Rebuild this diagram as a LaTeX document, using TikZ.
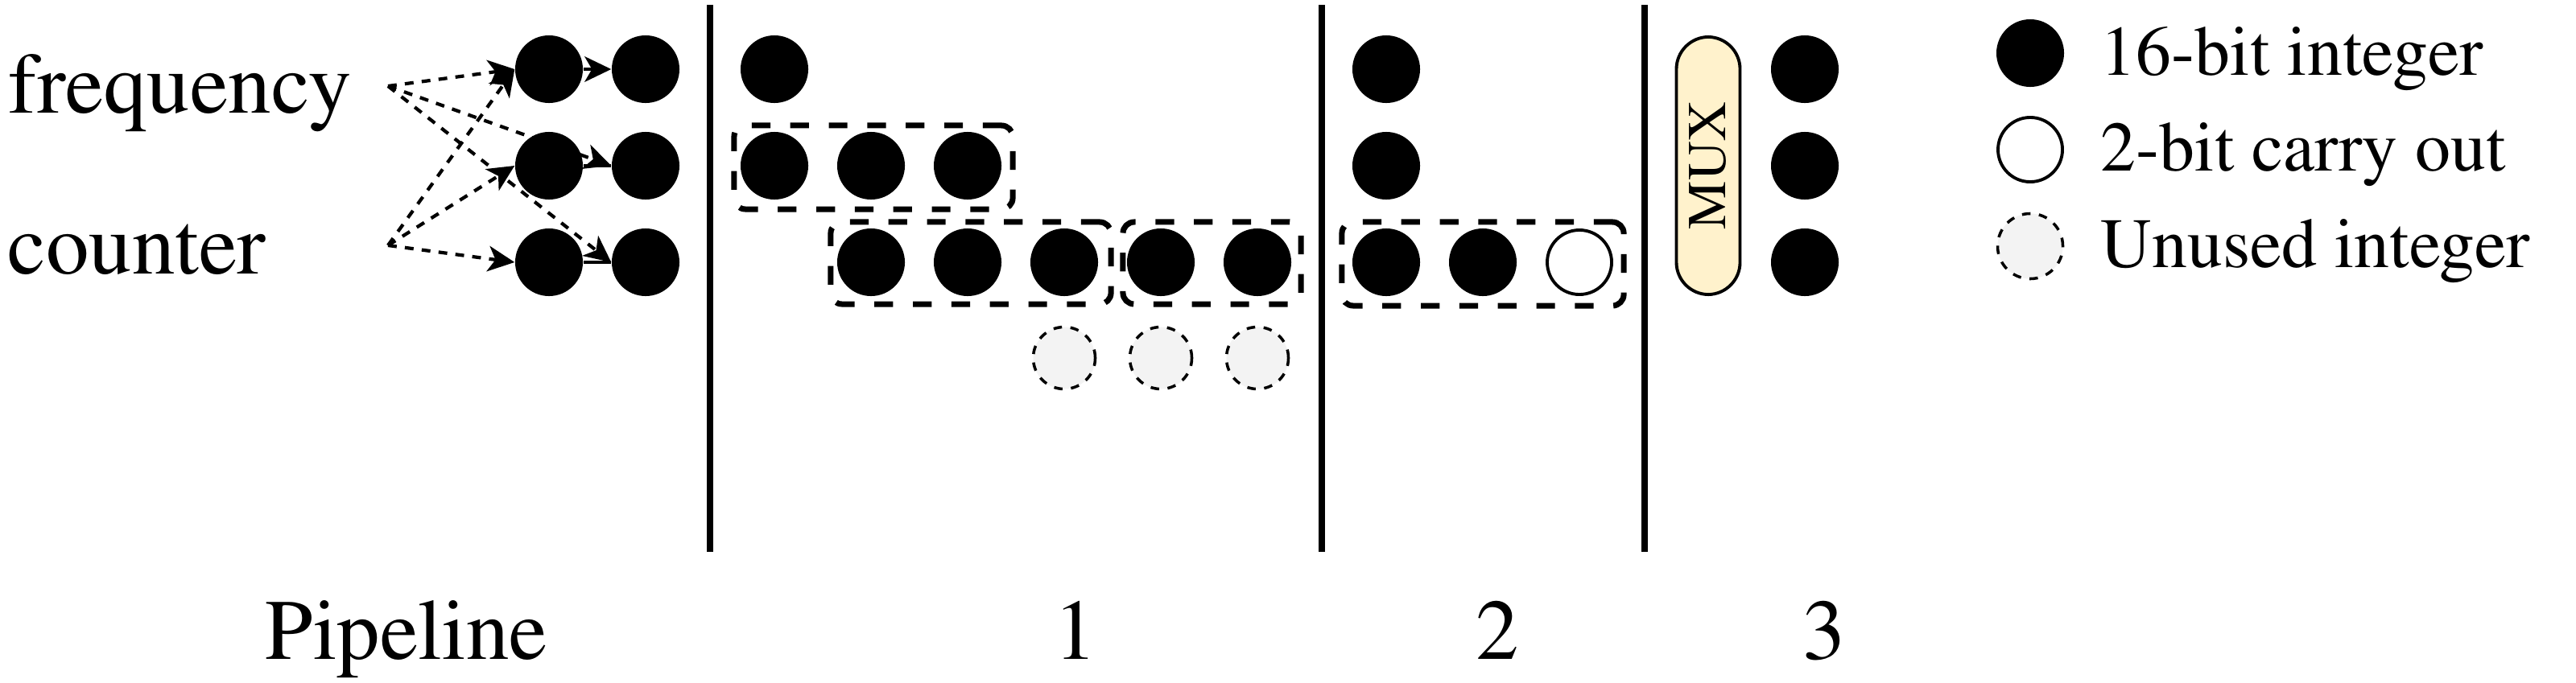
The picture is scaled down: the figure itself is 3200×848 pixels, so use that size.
\documentclass[tikz,border=0pt]{standalone}
\usepackage[T1]{fontenc}
\renewcommand{\rmdefault}{ptm}
\usetikzlibrary{arrows.meta}
\pgfdeclarelayer{bg}
\pgfsetlayers{bg,main}
\definecolor{muxfill}{HTML}{FFF2CC}
\definecolor{unusedfill}{HTML}{F3F3F3}
\begin{document}
\begin{tikzpicture}[x=0.01cm,y=0.01cm,
  int/.style={circle, fill=black, inner sep=0pt, minimum size=0.84cm},
  carry/.style={circle, draw=black, fill=white, line width=1.1pt, inner sep=0pt, minimum size=0.80cm},
  unused/.style={circle, draw=black, fill=unusedfill, line width=1pt, dash pattern=on 3pt off 3pt, inner sep=0pt, minimum size=0.77cm},
  grp/.style={draw=black, line width=2pt, dash pattern=on 6.6pt off 7pt, rounded corners=4pt, inner sep=0pt},
  sep/.style={line width=2.2pt},
  tip/.style={-{Stealth[length=9.4pt,width=9pt,inset=2.6pt]}},
  flow/.style={line width=1.2pt, dash pattern=on 3.1pt off 2.9pt, tip},
  link/.style={line width=1.2pt},
  big/.style={font=\fontsize{30.4}{36}\selectfont, inner sep=0pt},
  leg/.style={font=\fontsize{25}{30}\selectfont, inner sep=0pt, anchor=base west},
  mux/.style={draw=black, fill=muxfill, line width=1.1pt, rotate=90, rounded corners=0.4cm,
    minimum width=3.2cm, minimum height=0.79cm, inner sep=0pt, font=\fontsize{19.3}{23}\selectfont},
]
\begin{pgfonlayer}{bg}
\fill[white] (0,0) rectangle (3200,-848);
\end{pgfonlayer}
\path[use as bounding box] (0,0) rectangle (3200,-848);

% labels
\node[big, anchor=base west] (freq) at (10,-140) {frequency};
\node[big, anchor=base west] (cnt) at (9,-340) {counter};
\coordinate (fsrc) at (482,-107);
\coordinate (csrc) at (482,-305);

% input stage
\node[int] (i1) at (682,-86) {};
\node[int] (i2) at (682,-206) {};
\node[int] (i3) at (682,-326) {};
\node[int] (o1) at (802,-86) {};
\node[int] (o2) at (802,-206) {};
\node[int] (o3) at (802,-326) {};

\begin{pgfonlayer}{bg}
\draw[flow] (fsrc) -- (i1.west);
\draw[flow] (fsrc) -- (o2.west);
\draw[flow] (fsrc) -- (o3.west);
\draw[flow] (csrc) -- (i1.west);
\draw[flow] (csrc) -- (i2.west);
\draw[flow] (csrc) -- (i3.west);
\draw[link, tip] (i1.east) -- (o1.west);
\draw[link] (i2.east) -- (o2.west);
\draw[link] (i3.east) -- (o3.west);
\end{pgfonlayer}

% separators
\coordinate (s1t) at (882,-6);   \coordinate (s1b) at (882,-686);
\coordinate (s2t) at (1642,-6);  \coordinate (s2b) at (1642,-686);
\coordinate (s3t) at (2043,-6);  \coordinate (s3b) at (2043,-686);
\draw[sep] (s1t) -- (s1b);
\draw[sep] (s2t) -- (s2b);
\draw[sep] (s3t) -- (s3b);

% stage 1
\node[int] (a1) at (962,-86) {};
\node[int] (b1) at (962,-206) {};
\node[int] (b2) at (1082,-206) {};
\node[int] (b3) at (1202,-206) {};
\node[int] (c1) at (1082,-326) {};
\node[int] (c2) at (1202,-326) {};
\node[int] (c3) at (1322,-326) {};
\node[int] (c4) at (1442,-326) {};
\node[int] (c5) at (1562,-326) {};
\node[unused] (u1) at (1322,-445) {};
\node[unused] (u2) at (1442,-445) {};
\node[unused] (u3) at (1562,-445) {};
\node[grp, minimum width=3.46cm, minimum height=1.04cm] (gA) at (1085,-208) {};
\node[grp, minimum width=3.48cm, minimum height=1.02cm] (gB) at (1206,-327) {};
\node[grp, minimum width=2.21cm, minimum height=1.02cm] (gC) at (1505.5,-327) {};

% stage 2
\node[int] (d1) at (1722,-86) {};
\node[int] (d2) at (1722,-206) {};
\node[int] (e1) at (1722,-326) {};
\node[int] (e2) at (1842,-326) {};
\node[carry] (e3) at (1962,-326) {};
\node[grp, minimum width=3.50cm, minimum height=1.04cm] (gD) at (1842,-328) {};

% stage 3
\node[mux] (mx) at (2122,-206) {MUX};
\node[int] (f1) at (2242,-86) {};
\node[int] (f2) at (2242,-206) {};
\node[int] (f3) at (2242,-326) {};

% legend
\node[int] (lg1) at (2522,-66) {};
\node[carry] (lg2) at (2522,-186) {};
\node[unused, minimum size=0.81cm] (lg3) at (2522,-306) {};
\node[leg] (lt1) at (2609,-93) {16-bit integer};
\node[leg] (lt2) at (2609,-212) {2-bit carry out};
\node[leg] (lt3) at (2609,-332) {Unused integer};

% pipeline labels
\node[big, anchor=base west] (pl) at (329,-819) {Pipeline};
\node[big, anchor=base] (p1) at (1336,-819) {1};
\node[big, anchor=base] (p2) at (1860,-819) {2};
\node[big, anchor=base] (p3) at (2266,-819) {3};
\end{tikzpicture}
\end{document}
